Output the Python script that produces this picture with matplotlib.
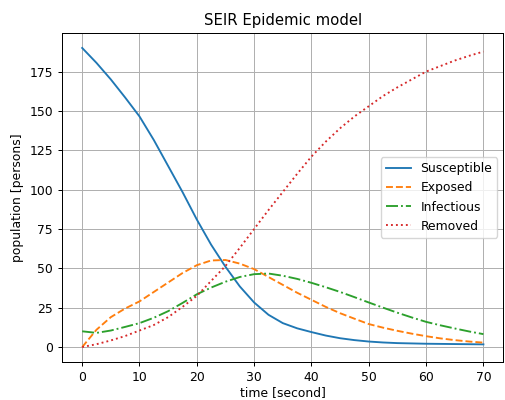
import matplotlib
matplotlib.use("Agg")
import matplotlib.pyplot as plt

# values every 2.5 seconds
t = [0, 2.5, 5, 7.5, 10, 12.5, 15, 17.5, 20, 22.5, 25, 27.5, 30, 32.5, 35,
     37.5, 40, 42.5, 45, 47.5, 50, 52.5, 55, 57.5, 60, 62.5, 65, 67.5, 70]

susceptible = [190, 180.5, 170, 158.5, 146.5, 131.5, 115, 98.5, 81, 65, 51, 38.5,
               28.3, 20.5, 15.2, 11.9, 9.5, 7.3, 5.6, 4.4, 3.5, 2.9, 2.5, 2.3,
               2.1, 2.0, 1.9, 1.8, 1.7]
exposed = [0, 11, 19, 24.5, 29, 35, 41, 47, 52, 55, 55.3, 53, 49.5, 44.5,
           39.5, 34.5, 30, 25.5, 21.5, 18, 14.6, 12.3, 10.3, 8.5, 6.9, 5.5,
           4.4, 3.5, 2.8]
infectious = [10, 9.0, 10.5, 12.8, 15.2, 18.6, 22.8, 28, 33.5, 37.8, 41.5,
              44.5, 46.3, 46.7, 45.3, 43.3, 40.8, 38, 35, 31.7, 28.3, 25, 21.8,
              18.8, 16, 13.8, 11.8, 9.9, 8.2]
removed = [0, 1.8, 4.2, 7, 10.5, 14, 19, 25.5, 32.5, 42, 51.5, 63, 75, 87,
           98.5, 110, 121, 130.5, 139, 146.5, 153, 159.5, 165, 170, 175, 178.5,
           182, 185, 187.7]

# the reference looks like a default figure shrunk by about 0.89
plt.rcParams["font.size"] = 8.9
plt.rcParams["lines.linewidth"] = 1.35
plt.rcParams["axes.linewidth"] = 0.72
plt.rcParams["grid.linewidth"] = 0.72
for k in ["xtick", "ytick"]:
    plt.rcParams[k + ".major.size"] = 3.1
    plt.rcParams[k + ".major.width"] = 0.72

fig = plt.figure(figsize=(5.05, 4), dpi=100)
fig.subplots_adjust(left=0.123, right=0.997, bottom=0.095, top=0.9175)
ax = fig.add_subplot(111)

ax.plot(t, susceptible, "-", label="Susceptible")
ax.plot(t, exposed, "--", label="Exposed")
ax.plot(t, infectious, "-.", label="Infectious")
ax.plot(t, removed, ":", label="Removed")

ax.set_title("SEIR Epidemic model")
ax.set_xlabel("time [second]", labelpad=1.5)
ax.set_ylabel("population [persons]")
ax.grid(True)
ax.legend(loc="center right")

plt.savefig("out.png")
